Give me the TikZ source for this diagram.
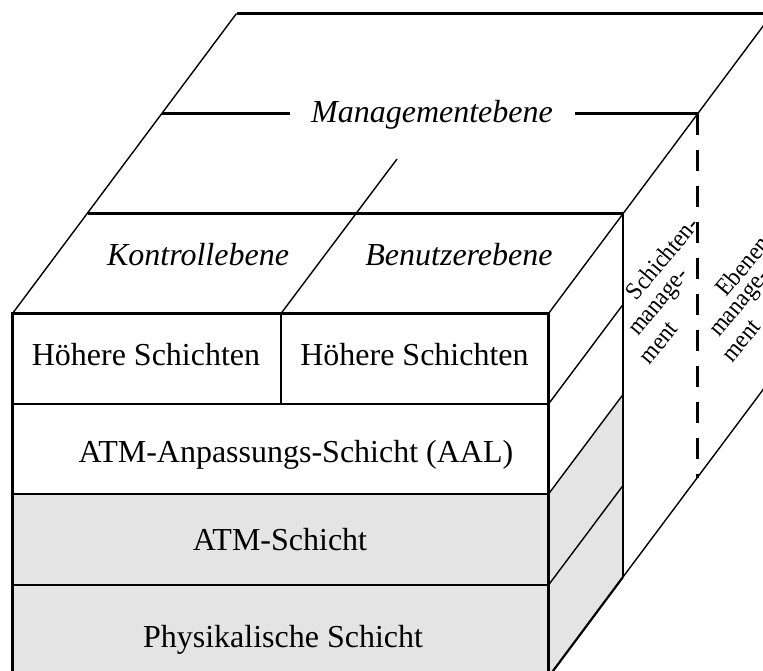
\documentclass[tikz,border=0pt]{standalone}
\usepackage{fontspec}
\setmainfont{Liberation Serif}
\newfontfamily\sideserif[FakeStretch=0.92]{Liberation Serif}
\definecolor{layergrey}{RGB}{228,228,228}
\begin{document}
\begin{tikzpicture}[x=1pt,y=-1pt,
  heavy/.style={line width=2.2pt},
  light/.style={line width=1.4pt},
  dashedge/.style={line width=2.2pt, dash pattern=on 21pt off 15pt},
  lbl/.style={font=\fontsize{32}{38}\selectfont, anchor=base, inner sep=0pt},
  ilbl/.style={lbl, font=\fontsize{32}{38}\selectfont\itshape},
  rlbl/.style={font=\sideserif\fontsize{25}{30}\selectfont, anchor=center, inner sep=0pt, rotate=50}
]
\useasboundingbox (0,0) rectangle (763,670);
\clip (0,0) rectangle (763,670);

% corner points of the cube
\coordinate (FTL) at (12.5,313.5);
\coordinate (FTR) at (548.5,313.5);
\coordinate (FBL) at (12.5,677);
\coordinate (FBR) at (548.5,677);
\coordinate (STR) at (623,213.5);
\coordinate (SBR) at (623,577);
\coordinate (BTL) at (236.5,13.5);
\coordinate (BTR) at (772.5,13.5);
\coordinate (BBR) at (772.5,377);

% grey lower layers (front and side)
\fill[layergrey] (12.5,494) rectangle (FBR);
\fill[layergrey] (548.5,494) -- (623,394.5) -- (SBR) -- (FBR) -- cycle;

% front face
\draw[heavy] (FTL) rectangle (FBR);
\draw[heavy] (FTL |- 0,404) -- (FTR |- 0,404);
\draw[heavy] (FTL |- 0,494) -- (FTR |- 0,494);
\draw[heavy] (FTL |- 0,585) -- (FTR |- 0,585);
\draw[heavy] (281,313.5) -- (281,404);

% top surface
\draw[light] (FTL) -- (BTL);
\draw[light] (FTR) -- (BTR);
\draw[heavy] (BTL) -- (BTR);
\draw[heavy] (87.5,213.5) -- (STR);
\draw[light] (281,313.5) -- (397,159);
\draw[heavy] (162,113.5) -- (290,113.5);
\draw[heavy] (575,113.5) -- (697.5,113.5);

% side face
\draw[light] (STR) -- (SBR);
\draw[light] (548.5,404) -- (623,304.5);
\draw[light] (548.5,494) -- (623,394.5);
\draw[light] (548.5,585) -- (623,485.5);
\draw[heavy] (FBR) -- (SBR);
\draw[light] (SBR) -- (BBR);
\draw[dashedge] (697.5,113.5) -- (697.5,478);

% labels
\node[ilbl] (mgmt) at (432,122.5) {Managementebene};
\node[ilbl] (ctrl) at (198,265) {Kontrollebene};
\node[ilbl] (user) at (459,265) {Benutzerebene};
\node[lbl] (hl) at (146,365) {Höhere Schichten};
\node[lbl] (hr) at (414.5,365) {Höhere Schichten};
\node[lbl] (aal) at (296,462) {ATM-Anpassungs-Schicht (AAL)};
\node[lbl] (atm) at (280,550) {ATM-Schicht};
\node[lbl] (phy) at (283,647) {Physikalische Schicht};

% rotated labels on the side planes
\node[rlbl] (sm1) at (662,258) {Schichten-};
\node[rlbl] (sm2) at (661,304) {manage-};
\node[rlbl] (sm3) at (659,343) {ment};
\node[rlbl] (em1) at (745,263) {Ebenen-};
\node[rlbl] (em2) at (742,305) {manage-};
\node[rlbl] (em3) at (741.5,341) {ment};
\end{tikzpicture}
\end{document}
